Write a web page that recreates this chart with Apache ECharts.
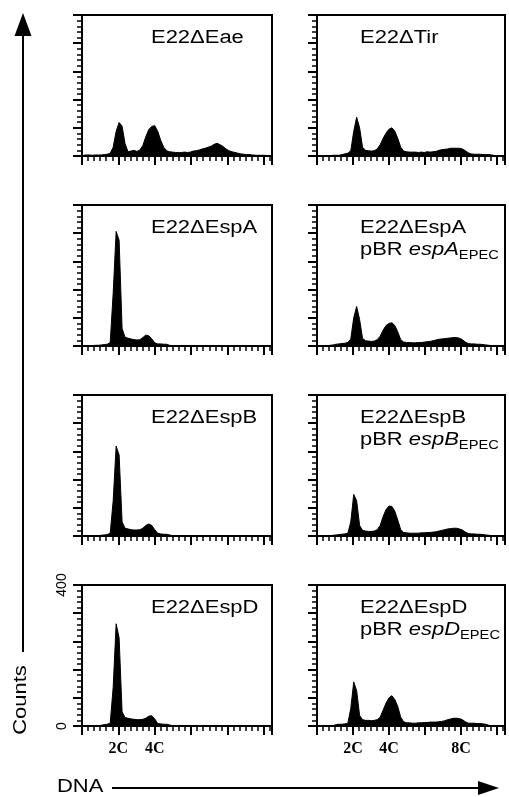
<!DOCTYPE html>
<html><head><meta charset="utf-8">
<script src="https://cdn.jsdelivr.net/npm/echarts@6/dist/echarts.min.js"></script>
<style>html,body{margin:0;padding:0;background:#fff}#c{width:509px;height:797px}</style>
</head><body><div id="c"></div>
<script>
// DNA channel grid: 64 bins of 16 channels (0–1024)
const binStart = 8, binWidth = 16;

// Counts per bin
const eae = [2,3,3,2,3,3,3,4, 5,8,25,70,95,85,35,12, 14,16,13,17,30,55,75,84, 86,70,45,25,15,12,11,10, 10,10,11,10,11,14,15,17, 20,22,25,28,33,36,32,27, 20,15,12,10,8,6,5,4, 4,3,2,2,2,2,1,1];
const tir = [1,1,1,1,1,2,2,2, 4,6,8,15,70,110,80,25, 16,15,14,15,20,32,50,65, 76,80,70,50,25,14,12,11, 11,11,10,11,10,12,11,12, 13,16,18,19,20,22,22,22, 22,20,15,9,6,5,5,5, 4,4,4,3,1,1,0,0];
const espA = [1,1,1,1,2,2,3,4, 5,10,150,325,300,50,25,22, 20,18,17,18,24,31,29,20, 9,6,6,5,5,2,1,1, 0,0,0,0,0,0,0,0, 0,0,0,0,0,0,0,0, 0,0,0,0,0,0,0,0, 0,0,0,0,0,0,0,0];
const espApBR = [1,1,1,1,2,3,5,6, 7,8,10,20,80,112,75,22, 15,14,13,14,18,28,45,58, 64,66,58,40,18,11,10,10, 9,9,10,10,11,12,13,15, 17,19,20,21,22,23,24,24, 22,18,11,7,6,6,5,5, 4,3,2,1,1,0,0,0];
const espB = [0,0,0,1,1,1,2,3, 4,8,100,255,230,40,22,20, 18,17,17,18,22,30,34,30, 18,8,6,5,5,3,1,0, 0,0,0,0,0,0,0,0, 0,0,0,0,0,0,0,0, 0,0,0,0,0,0,0,0, 0,0,0,0,0,0,0,0];
const espBpBR = [0,0,1,1,1,2,3,4, 5,6,8,40,118,100,30,16, 14,13,13,14,18,30,55,75, 85,84,70,45,18,10,9,8, 8,8,8,9,9,10,10,11, 12,14,16,18,20,21,22,22, 20,17,11,7,6,6,5,5, 4,3,2,1,1,0,0,0];
const espD = [0,0,0,1,1,1,2,4, 5,8,110,290,250,40,24,22, 20,19,18,18,19,22,28,29, 20,7,6,5,5,3,1,0, 0,0,0,0,0,0,0,0, 0,0,0,0,0,0,0,0, 0,0,0,0,0,0,0,0, 0,0,0,0,0,0,0,0];
const espDpBR = [0,0,0,1,1,1,4,5, 5,6,8,50,125,100,30,18, 16,16,15,16,18,25,45,65, 80,86,75,55,25,12,9,9, 8,8,9,9,10,10,11,11, 11,12,13,15,18,20,22,22, 21,18,12,8,8,8,7,7, 6,5,2,1,1,0,0,0];

// Tick labels
const dnaTickValues = [196, 392, 784];
const dnaTickLabels = ['2C', '4C', '8C'];
const countTickValues = [0, 400];
const countTickLabels = ['0', '400'];

// Panel titles
const titleLine1 = ['E22ΔEae', 'E22ΔTir', 'E22ΔEspA', 'E22ΔEspA', 'E22ΔEspB', 'E22ΔEspB', 'E22ΔEspD', 'E22ΔEspD'];
const plasmidGene = [null, null, null, 'espA', null, 'espB', null, 'espD'];

const seriesData = [eae, tir, espA, espApBR, espB, espBpBR, espD, espDpBR];

const colLeft = [82, 317], colWidth = [190, 188];
const rowTop = [15, 205, 395, 585], H = 141;

const grids = [], xAxes = [], yAxes = [], series = [], graphics = [];
const SX = 1.22;
seriesData.forEach((arr, i) => {
  const col = i % 2, row = Math.floor(i / 2);
  const bottom = row === 3;
  grids.push({left: colLeft[col], top: rowTop[row], width: colWidth[col], height: H,
    show: true, borderColor: '#000', borderWidth: 2, backgroundColor: 'transparent', outerBoundsMode: 'none'});
  const nLab = col === 0 ? 2 : 3;
  xAxes.push({type: 'value', gridIndex: i, min: 0, max: 1024, interval: 196,
    axisLine: {show: true, onZero: false, lineStyle: {color: '#000', width: 2}},
    axisTick: {show: true, inside: false, length: 9, lineStyle: {color: '#000', width: 2}},
    minorTick: {show: true, splitNumber: 6, length: 5, lineStyle: {color: '#000', width: 1.5}},
    splitLine: {show: false}, minorSplitLine: {show: false},
    axisLabel: {show: bottom, margin: 15, color: '#000', fontFamily: 'Liberation Serif', fontWeight: 'bold', fontSize: 16,
      showMaxLabel: false,
      formatter: v => { const k = dnaTickValues.indexOf(v); return (k >= 0 && k < nLab) ? dnaTickLabels[k] : ''; }}
  });
  yAxes.push({type: 'value', gridIndex: i, min: 0, max: 400, interval: 80,
    axisLine: {show: true, onZero: false, lineStyle: {color: '#000', width: 2}},
    axisTick: {show: true, inside: false, length: 9, lineStyle: {color: '#000', width: 2}},
    minorTick: {show: true, splitNumber: 5, length: 5, lineStyle: {color: '#000', width: 1.5}},
    splitLine: {show: false}, minorSplitLine: {show: false},
    axisLabel: {show: bottom && col === 0, rotate: 90, margin: 13, color: '#000', fontFamily: 'Liberation Sans', fontSize: 14,
      formatter: v => { const k = countTickValues.indexOf(v); return k >= 0 ? countTickLabels[k] : ''; }}
  });
  series.push({type: 'line', xAxisIndex: i, yAxisIndex: i, silent: true,
    data: arr.map((c, k) => [binStart + binWidth * k, c]),
    symbol: 'none', lineStyle: {color: '#000', width: 1}, areaStyle: {color: '#000', opacity: 1}});

  // titles
  const tx = col === 0 ? colLeft[0] + 69 : colLeft[1] + 43;
  const ty = rowTop[row] + 23;
  graphics.push({type: 'text', x: tx, y: ty, scaleX: SX,
    style: {text: titleLine1[i], fontFamily: 'Liberation Sans', fontSize: 18, fill: '#000', verticalAlign: 'middle'}});
  if (plasmidGene[i]) {
    graphics.push({type: 'text', x: tx, y: ty + 22, scaleX: SX,
      style: {text: '{a|pBR }{g|' + plasmidGene[i] + '}{s|EPEC}', fill: '#000', verticalAlign: 'middle',
        rich: {a: {fontFamily: 'Liberation Sans', fontSize: 18, fill: '#000'},
               g: {fontFamily: 'Liberation Sans', fontStyle: 'italic', fontSize: 18, fill: '#000'},
               s: {fontFamily: 'Liberation Sans', fontSize: 12, fill: '#000', padding: [12, 0, 0, 0]}}}});
  }
});

// outer axes: Counts and DNA arrows
graphics.push(
  {type: 'line', shape: {x1: 23, y1: 34, x2: 23, y2: 652}, style: {stroke: '#000', lineWidth: 2}},
  {type: 'polygon', shape: {points: [[23, 13], [14.5, 36], [31.5, 36]]}, style: {fill: '#000'}},
  {type: 'text', x: 21, y: 700, rotation: Math.PI / 2, scaleX: SX,
    style: {text: 'Counts', fontFamily: 'Liberation Sans', fontSize: 18, fill: '#000', align: 'center', verticalAlign: 'middle'}},
  {type: 'text', x: 57, y: 787, scaleX: SX,
    style: {text: 'DNA', fontFamily: 'Liberation Sans', fontSize: 18, fill: '#000', verticalAlign: 'middle'}},
  {type: 'line', shape: {x1: 112, y1: 788, x2: 480, y2: 788}, style: {stroke: '#000', lineWidth: 2}},
  {type: 'polygon', shape: {points: [[499, 788], [478, 781], [478, 795]]}, style: {fill: '#000'}}
);

const chart = echarts.init(document.getElementById('c'), null, {renderer: 'canvas'});
chart.setOption({animation: false, backgroundColor: '#fff',
  grid: grids, xAxis: xAxes, yAxis: yAxes, series: series, graphic: graphics});
</script></body></html>
